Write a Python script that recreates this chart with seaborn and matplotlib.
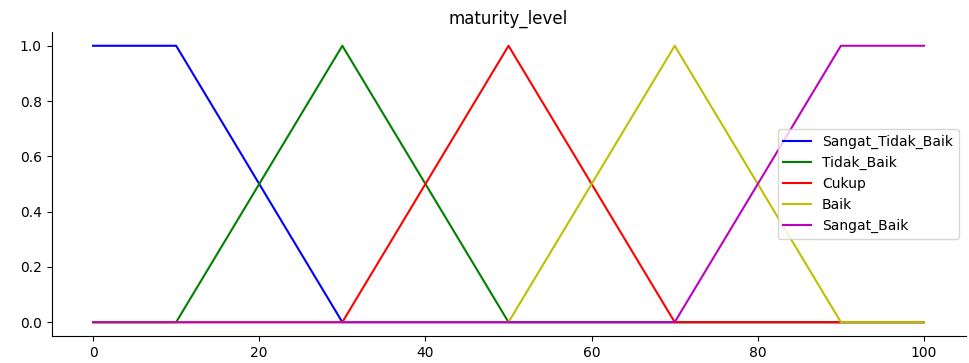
import matplotlib
matplotlib.use("Agg")
import matplotlib.pyplot as plt
import seaborn as sns
import pandas as pd

# breakpoints of the universe (0..100)
x_points = [0, 10, 30, 50, 70, 90, 100]
labels = ["Sangat_Tidak_Baik", "Tidak_Baik", "Cukup", "Baik", "Sangat_Baik"]
sangat_tidak_baik = [1, 1, 0, 0, 0, 0, 0]
tidak_baik = [0, 0, 1, 0, 0, 0, 0]
cukup = [0, 0, 0, 1, 0, 0, 0]
baik = [0, 0, 0, 0, 1, 0, 0]
sangat_baik = [0, 0, 0, 0, 0, 1, 1]
colors = ["b", "g", "r", "y", "m"]
title = "maturity_level"

series = [sangat_tidak_baik, tidak_baik, cukup, baik, sangat_baik]

fig = plt.figure(figsize=(9.7, 3.63), dpi=100)
ax = fig.add_axes([0.0531, 0.0744, 0.9423, 0.8376])

for lab, vals, c in zip(labels, series, colors):
    df = pd.DataFrame({"x": x_points, "y": vals})
    sns.lineplot(data=df, x="x", y="y", color=c, linewidth=1.5, label=lab, ax=ax)

ax.set_title(title)
ax.set_xlabel("")
ax.set_ylabel("")
ax.spines["top"].set_visible(False)
ax.spines["right"].set_visible(False)
ax.get_xaxis().tick_bottom()
ax.get_yaxis().tick_left()
ax.legend(loc="center right")

fig.savefig("out.png", dpi=100)
